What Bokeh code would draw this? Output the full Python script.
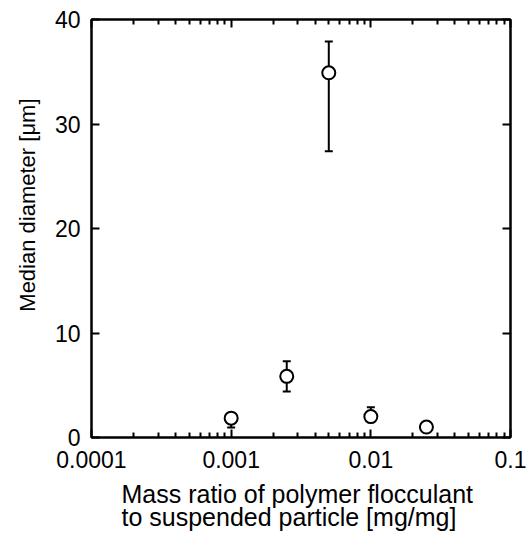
from bokeh.plotting import figure
from bokeh.models import (LogAxis, LinearAxis, FixedTicker, CustomJSTickFormatter, Range1d,
                          Whisker, TeeHead, ColumnDataSource, Title)
from bokeh.embed import file_html
from bokeh.resources import INLINE

# Data
mass_ratio = [0.001, 0.0025, 0.005, 0.01, 0.025]
median_diameter = [1.85, 5.85, 34.9, 2.0, 1.0]
err_lower = [0.95, 4.4, 27.4, 1.6, 0.8]
err_upper = [2.3, 7.3, 37.9, 2.9, 1.2]

x_major_ticks = [0.0001, 0.001, 0.01, 0.1]
y_major_ticks = [0, 10, 20, 30, 40]
x_label_lines = ["Mass ratio of polymer flocculant", "to suspended particle [mg/mg]"]
y_label = "Median diameter [\u03bcm]"

FONT = "Liberation Sans"

x_minor = [d * m for d in x_major_ticks[:-1] for m in range(2, 10)]

p = figure(width=528, height=542, x_axis_type="log",
           x_range=Range1d(0.0001, 0.1), y_range=Range1d(0, 40),
           output_backend="svg", toolbar_location=None,
           min_border_left=91, min_border_right=18, min_border_top=19, min_border_bottom=105)
p.grid.visible = False
p.outline_line_color = "black"
p.outline_line_width = 2
p.background_fill_color = "white"
p.border_fill_color = "white"

xticker = FixedTicker(ticks=x_major_ticks, minor_ticks=x_minor)
yticker = FixedTicker(ticks=y_major_ticks, minor_ticks=[])

xa = p.xaxis[0]
xa.ticker = xticker
xa.formatter = CustomJSTickFormatter(code="return tick.toString()")
ya = p.yaxis[0]
ya.ticker = yticker

for ax in (xa, ya):
    ax.axis_line_width = 2
    ax.major_tick_in = 8
    ax.major_tick_out = 0
    ax.minor_tick_in = 5
    ax.minor_tick_out = 0
    ax.major_tick_line_width = 2
    ax.minor_tick_line_width = 2
    ax.major_label_text_font = FONT
    ax.major_label_text_font_size = "23px"
    ax.major_label_text_color = "black"
xa.major_label_standoff = 13
ya.major_label_standoff = 11

blank = CustomJSTickFormatter(code="return ''")
top = LogAxis(ticker=xticker, formatter=blank,
              axis_line_width=2, major_tick_in=8, major_tick_out=0,
              minor_tick_in=5, minor_tick_out=0,
              major_tick_line_width=2, minor_tick_line_width=2, major_label_standoff=0)
right = LinearAxis(ticker=yticker, formatter=blank,
                   axis_line_width=2, major_tick_in=8, major_tick_out=0,
                   minor_tick_in=0, minor_tick_out=0, major_tick_line_width=2,
                   major_label_standoff=0)
p.add_layout(top, "above")
p.add_layout(right, "right")

# axis titles
p.add_layout(Title(text="\n".join(x_label_lines), align="left", offset=30, standoff=16,
                   text_font=FONT, text_font_size="25px", text_font_style="normal",
                   text_line_height=0.83, text_color="black"), "below")
p.add_layout(Title(text=y_label, align="right", offset=79, standoff=23,
                   text_font=FONT, text_font_size="22px", text_font_style="normal",
                   text_color="black"), "left")

src = ColumnDataSource(dict(x=mass_ratio, y=median_diameter, lo=err_lower, hi=err_upper))
wh = Whisker(base="x", lower="lo", upper="hi", source=src, dimension="height",
             line_width=2, line_color="black",
             lower_head=TeeHead(size=8, line_width=2, line_color="black"),
             upper_head=TeeHead(size=8, line_width=2, line_color="black"),
             level="underlay")
p.add_layout(wh)
p.scatter("x", "y", source=src, marker="circle", size=13, fill_color="white",
          line_color="black", line_width=2)

open("out.html", "w").write(file_html(p, INLINE))
